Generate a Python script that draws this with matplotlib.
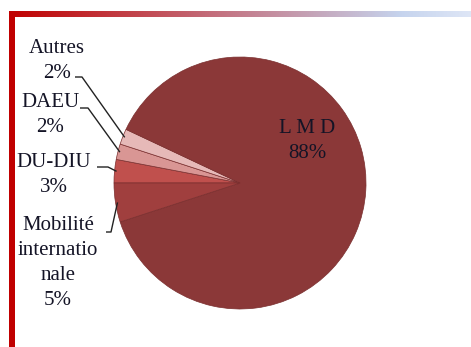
import numpy as np
import matplotlib
matplotlib.use("Agg")
import matplotlib.pyplot as plt

# Répartition des formations
categories = ["DU-DIU", "DAEU", "Autres", "L M D", "Mobilité\ninternatio\nnale"]
values = [3, 2, 2, 88, 5]
colors = ["#C0504D", "#D99694", "#E6B9B8", "#8B3838", "#A03F3E"]

W, H = 471, 347
fig = plt.figure(figsize=(W / 100, H / 100), dpi=100)
ax = fig.add_axes([0, 0, 1, 1])
ax.set_xlim(0, W)
ax.set_ylim(0, H)
ax.set_aspect("equal")
ax.axis("off")


def py(y):
    """Convert a top-down pixel row into the axes' y coordinate."""
    return H - y


# Slide frame: red left bar and a red-to-blue gradient top bar
ax.add_patch(plt.Rectangle((9, 0), 6, py(11), color="#C00000", lw=0, zorder=1))
n = 400
t = np.linspace(0, 1, n)
red = np.array([192, 0, 0]) / 255
blue = np.array([198, 212, 238]) / 255
light = np.array([222, 230, 246]) / 255
grad = np.zeros((1, n, 3))
for i, v in enumerate(t):
    if v < 0.85:
        f = v / 0.85
        grad[0, i] = red * (1 - f) + blue * f
    else:
        f = (v - 0.85) / 0.15
        grad[0, i] = blue * (1 - f) + light * f
ax.imshow(grad, extent=(9, W, py(17), py(11)), aspect="auto", zorder=1)

cx, cy, r = 240, py(183), 126
wedges, _ = ax.pie(values, colors=colors, startangle=180, counterclock=False,
                   center=(cx, cy), radius=r,
                   wedgeprops=dict(edgecolor="#7A2E2E", linewidth=0.5))
ax.set_xlim(0, W)
ax.set_ylim(0, H)

font = dict(family="Liberation Serif", fontsize=15, color="#141426",
            ha="center", va="center", linespacing=1.42)

# Inside label for the large slice
ax.text(307, py(141), f"{categories[3]}\n{values[3]}%", **font)

# Outside labels with leader lines: (text centre, line start, elbow)
outside = {
    2: ((57, 61), (75, 77), (82, 77)),
    1: ((50, 115), (80, 108), (88, 108)),
    0: ((54, 175), (97, 167), (108, 167)),
    4: ((58, 263), (106, 232), (111, 232)),
}
for idx, ((tx, ty), p0, p1) in outside.items():
    ax.text(tx, py(ty), f"{categories[idx]}\n{values[idx]}%", **font)
    w = wedges[idx]
    mid = np.deg2rad((w.theta1 + w.theta2) / 2)
    ex = cx + (r - 2) * np.cos(mid)
    ey = cy + (r - 2) * np.sin(mid)
    ax.plot([p0[0], p1[0], ex], [py(p0[1]), py(p1[1]), ey],
            color="#222222", lw=1.0, zorder=5, solid_capstyle="butt")

fig.savefig("out.png", dpi=100)
